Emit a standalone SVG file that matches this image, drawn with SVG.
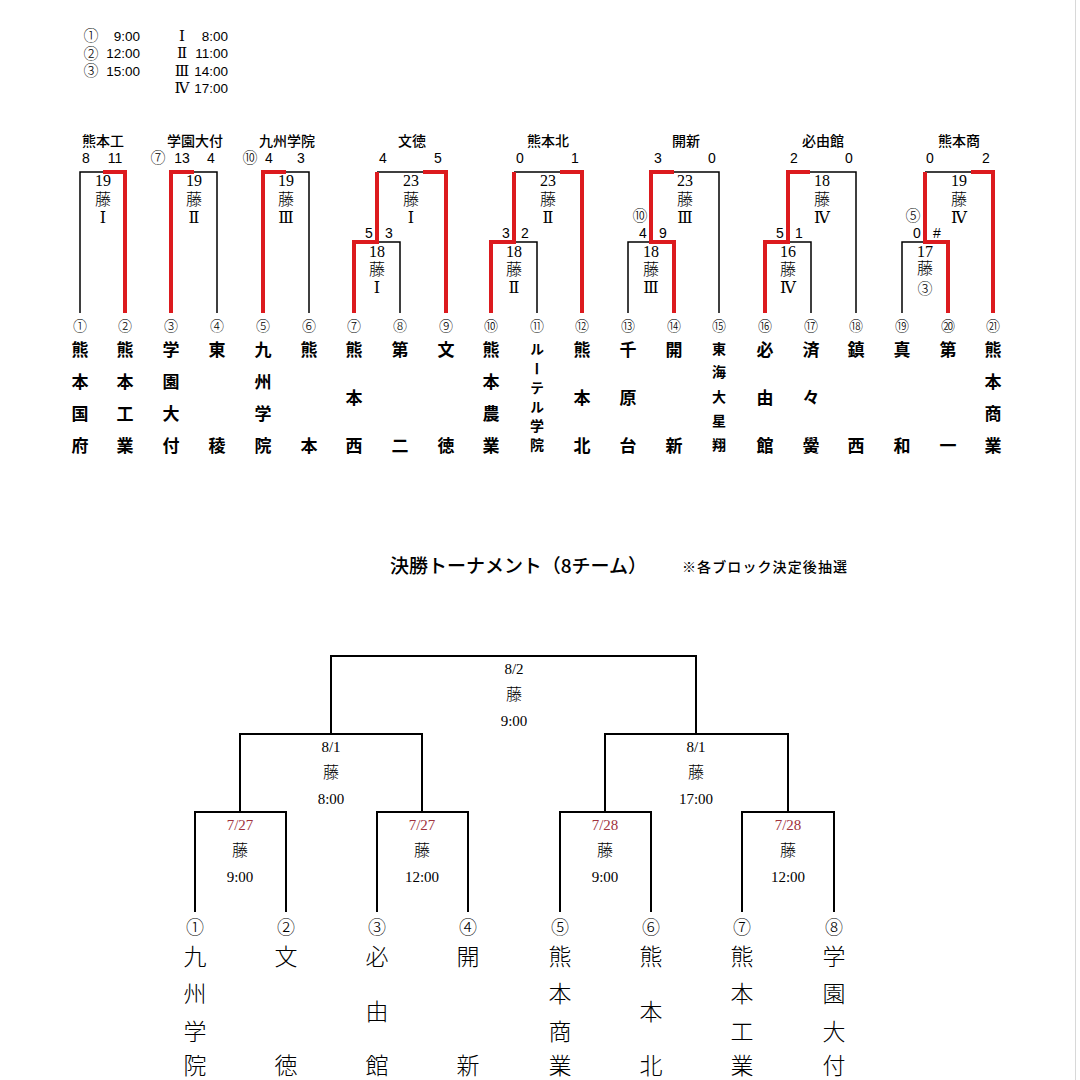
<svg xmlns="http://www.w3.org/2000/svg" width="1080" height="1080" viewBox="0 0 1080 1080">
<style>
.bk{stroke:#000;stroke-width:1.5;fill:none}
.bk2{stroke:#000;stroke-width:2;fill:none}
.rd{stroke:#dc1a1e;stroke-width:4;fill:none;stroke-linejoin:miter}
text{fill:#000}
.nm{font-family:"Noto Sans CJK JP",sans-serif;font-weight:700;font-size:17px;text-anchor:middle}
.nms{font-family:"Noto Sans CJK JP",sans-serif;font-weight:700;font-size:14px;text-anchor:middle}
.cn{font-family:"Noto Sans CJK JP",sans-serif;font-weight:300;font-size:14px;text-anchor:middle}
.sc{font-family:"Liberation Sans","Noto Sans CJK JP",sans-serif;font-size:14px;text-anchor:middle}
.bn{font-family:"Noto Sans CJK JP",sans-serif;font-weight:500;font-size:14px;text-anchor:middle}
.lb{font-family:"Liberation Serif","Noto Sans CJK JP",serif;font-size:16px;text-anchor:middle}
.fj{font-family:"Noto Sans CJK JP",sans-serif;font-weight:300;font-size:16px;text-anchor:middle}
.lg{font-family:"Liberation Sans","Noto Sans CJK JP",sans-serif;font-size:13.5px}
.rm{font-family:"Liberation Serif","DejaVu Serif","Noto Sans CJK JP",serif;font-size:16px;text-anchor:middle}
.bnm{font-family:"Noto Sans CJK JP",sans-serif;font-weight:300;font-size:23px;text-anchor:middle}
.bcn{font-family:"Noto Sans CJK JP",sans-serif;font-weight:300;font-size:18px;text-anchor:middle}
.dt{font-family:"Liberation Serif","Noto Sans CJK JP",serif;font-size:15px;text-anchor:middle}
.dtr{fill:#a0323c}
</style>
<rect width="1080" height="1080" fill="#fff"/>
<line x1="1075.5" y1="0" x2="1075.5" y2="1080" stroke="#d8d8d8" stroke-width="1"/>

<g id="legend">
<text class="cn" x="91" y="41" style="font-size:15px">①</text>
<text class="lg" x="140" y="41" text-anchor="end">9:00</text>
<text class="cn" x="91" y="58.5" style="font-size:15px">②</text>
<text class="lg" x="140" y="58" text-anchor="end">12:00</text>
<text class="cn" x="91" y="76" style="font-size:15px">③</text>
<text class="lg" x="140" y="76" text-anchor="end">15:00</text>
<text class="rm" x="182" y="41" style="font-size:15px">Ⅰ</text>
<text class="lg" x="228" y="41" text-anchor="end">8:00</text>
<text class="rm" x="182" y="58" style="font-size:15px">Ⅱ</text>
<text class="lg" x="228" y="58" text-anchor="end">11:00</text>
<text class="rm" x="182" y="76" style="font-size:15px">Ⅲ</text>
<text class="lg" x="228" y="76" text-anchor="end">14:00</text>
<text class="rm" x="182" y="93" style="font-size:15px">Ⅳ</text>
<text class="lg" x="228" y="93" text-anchor="end">17:00</text>
</g>

<g id="connectors">
<g id="block-connectors-black">
<path class="bk" d="M80,313V172H103"/>
<path class="bk" d="M194,172H217V313"/>
<path class="bk" d="M286,172H309V313"/>
<path class="bk" d="M377,242H400V313M377,172H423"/>
<path class="bk" d="M514,242H537V313M514,172H560"/>
<path class="bk" d="M628,313V242H651M674,172H719V313"/>
<path class="bk" d="M788,242H811V313M810,172H856V313"/>
<path class="bk" d="M902,313V242H925M925,172H971"/>
</g>
<g id="block-connectors-red">
<path class="rd" d="M103,172H125V313"/>
<path class="rd" d="M171,313V172H194"/>
<path class="rd" d="M263,313V172H286"/>
<path class="rd" d="M354,313V242H377V172M423,172H446V313"/>
<path class="rd" d="M491,313V242H514V172M560,172H582V313"/>
<path class="rd" d="M674,313V242H651V172H674"/>
<path class="rd" d="M765,313V242H788V172H810"/>
<path class="rd" d="M948,313V242H925V172M971,172H993V313"/>
</g>
<g id="final-connectors">
<path class="bk2" d="M331,734V656H696V734"/>
<path class="bk2" d="M240,812V734H422V812"/>
<path class="bk2" d="M605,812V734H788V812"/>
<path class="bk2" d="M195,912V812H286V912"/>
<path class="bk2" d="M377,912V812H468V912"/>
<path class="bk2" d="M560,912V812H651V912"/>
<path class="bk2" d="M742,912V812H834V912"/>
</g>
</g>

<g id="block1">
<text class="bn" x="103" y="146">熊本工</text>
<text class="sc" x="86" y="163">8</text><text class="sc" x="115" y="163">11</text>
<text class="lb" x="103" y="186">19</text><text class="fj" x="103" y="205">藤</text><text class="rm" x="103" y="223">Ⅰ</text>
</g>
<g id="block2">
<text class="bn" x="195" y="146">学園大付</text>
<text class="cn" x="158" y="163" style="font-size:15px">⑦</text><text class="sc" x="182" y="163">13</text><text class="sc" x="211" y="163">4</text>
<text class="lb" x="194" y="186">19</text><text class="fj" x="194" y="205">藤</text><text class="rm" x="194" y="223">Ⅱ</text>
</g>
<g id="block3">
<text class="bn" x="287" y="146">九州学院</text>
<text class="cn" x="250" y="163" style="font-size:15px">⑩</text><text class="sc" x="269" y="163">4</text><text class="sc" x="301" y="163">3</text>
<text class="lb" x="286" y="186">19</text><text class="fj" x="286" y="205">藤</text><text class="rm" x="286" y="223">Ⅲ</text>
</g>
<g id="block4">
<text class="bn" x="412" y="146">文徳</text>
<text class="sc" x="383" y="163">4</text><text class="sc" x="438" y="163">5</text>
<text class="lb" x="411" y="186">23</text><text class="fj" x="411" y="205">藤</text><text class="rm" x="411" y="223">Ⅰ</text>
<text class="sc" x="369" y="238">5</text><text class="sc" x="389" y="238">3</text>
<text class="lb" x="377" y="257">18</text><text class="fj" x="377" y="275">藤</text><text class="rm" x="377" y="293">Ⅰ</text>
</g>
<g id="block5">
<text class="bn" x="548" y="146">熊本北</text>
<text class="sc" x="520" y="163">0</text><text class="sc" x="575" y="163">1</text>
<text class="lb" x="548" y="186">23</text><text class="fj" x="548" y="205">藤</text><text class="rm" x="548" y="223">Ⅱ</text>
<text class="sc" x="506" y="238">3</text><text class="sc" x="525" y="238">2</text>
<text class="lb" x="514" y="257">18</text><text class="fj" x="514" y="275">藤</text><text class="rm" x="514" y="293">Ⅱ</text>
</g>
<g id="block6">
<text class="bn" x="686" y="146">開新</text>
<text class="sc" x="658" y="163">3</text><text class="sc" x="712" y="163">0</text>
<text class="lb" x="685" y="186">23</text><text class="fj" x="685" y="205">藤</text><text class="rm" x="685" y="223">Ⅲ</text>
<text class="cn" x="640" y="221" style="font-size:15px">⑩</text>
<text class="sc" x="643" y="238">4</text><text class="sc" x="663" y="238">9</text>
<text class="lb" x="651" y="257">18</text><text class="fj" x="651" y="275">藤</text><text class="rm" x="651" y="293">Ⅲ</text>
</g>
<g id="block7">
<text class="bn" x="823" y="146">必由館</text>
<text class="sc" x="794" y="163">2</text><text class="sc" x="849" y="163">0</text>
<text class="lb" x="822" y="186">18</text><text class="fj" x="822" y="205">藤</text><text class="rm" x="822" y="223">Ⅳ</text>
<text class="sc" x="780" y="238">5</text><text class="sc" x="799" y="238">1</text>
<text class="lb" x="788" y="257">16</text><text class="fj" x="788" y="275">藤</text><text class="rm" x="788" y="293">Ⅳ</text>
</g>
<g id="block8">
<text class="bn" x="959" y="146">熊本商</text>
<text class="sc" x="930" y="163">0</text><text class="sc" x="986" y="163">2</text>
<text class="lb" x="959" y="186">19</text><text class="fj" x="959" y="205">藤</text><text class="rm" x="959" y="223">Ⅳ</text>
<text class="cn" x="913" y="221" style="font-size:15px">⑤</text>
<text class="sc" x="917" y="238">0</text><text class="sc" x="937" y="238">#</text>
<text class="lb" x="925" y="257">17</text><text class="fj" x="925" y="274">藤</text><text class="cn" x="925" y="294" style="font-size:15px">③</text>
</g>

<g id="team1"><text class="cn" x="80" y="331">①</text><text class="nm" x="80" y="356">熊</text><text class="nm" x="80" y="388">本</text><text class="nm" x="80" y="420">国</text><text class="nm" x="80" y="452">府</text></g>
<g id="team2"><text class="cn" x="125" y="331">②</text><text class="nm" x="125" y="356">熊</text><text class="nm" x="125" y="388">本</text><text class="nm" x="125" y="420">工</text><text class="nm" x="125" y="452">業</text></g>
<g id="team3"><text class="cn" x="171" y="331">③</text><text class="nm" x="171" y="356">学</text><text class="nm" x="171" y="388">園</text><text class="nm" x="171" y="420">大</text><text class="nm" x="171" y="452">付</text></g>
<g id="team4"><text class="cn" x="217" y="331">④</text><text class="nm" x="217" y="356">東</text><text class="nm" x="217" y="452">稜</text></g>
<g id="team5"><text class="cn" x="263" y="331">⑤</text><text class="nm" x="263" y="356">九</text><text class="nm" x="263" y="388">州</text><text class="nm" x="263" y="420">学</text><text class="nm" x="263" y="452">院</text></g>
<g id="team6"><text class="cn" x="309" y="331">⑥</text><text class="nm" x="309" y="356">熊</text><text class="nm" x="309" y="452">本</text></g>
<g id="team7"><text class="cn" x="354" y="331">⑦</text><text class="nm" x="354" y="356">熊</text><text class="nm" x="354" y="404">本</text><text class="nm" x="354" y="452">西</text></g>
<g id="team8"><text class="cn" x="400" y="331">⑧</text><text class="nm" x="400" y="356">第</text><text class="nm" x="400" y="452">二</text></g>
<g id="team9"><text class="cn" x="446" y="331">⑨</text><text class="nm" x="446" y="356">文</text><text class="nm" x="446" y="452">徳</text></g>
<g id="team10"><text class="cn" x="491" y="331">⑩</text><text class="nm" x="491" y="356">熊</text><text class="nm" x="491" y="388">本</text><text class="nm" x="491" y="420">農</text><text class="nm" x="491" y="452">業</text></g>
<g id="team11"><text class="cn" x="537" y="331">⑪</text><text class="nms" x="537" y="342" style="writing-mode:vertical-rl;text-anchor:start;letter-spacing:5.2px">ルーテル学院</text></g>
<g id="team12"><text class="cn" x="582" y="331">⑫</text><text class="nm" x="582" y="356">熊</text><text class="nm" x="582" y="404">本</text><text class="nm" x="582" y="452">北</text></g>
<g id="team13"><text class="cn" x="628" y="331">⑬</text><text class="nm" x="628" y="356">千</text><text class="nm" x="628" y="404">原</text><text class="nm" x="628" y="452">台</text></g>
<g id="team14"><text class="cn" x="674" y="331">⑭</text><text class="nm" x="674" y="356">開</text><text class="nm" x="674" y="452">新</text></g>
<g id="team15"><text class="cn" x="719" y="331">⑮</text><text class="nms" x="719" y="354">東</text><text class="nms" x="719" y="377">海</text><text class="nms" x="719" y="402">大</text><text class="nms" x="719" y="426">星</text><text class="nms" x="719" y="450">翔</text></g>
<g id="team16"><text class="cn" x="765" y="331">⑯</text><text class="nm" x="765" y="356">必</text><text class="nm" x="765" y="404">由</text><text class="nm" x="765" y="452">館</text></g>
<g id="team17"><text class="cn" x="811" y="331">⑰</text><text class="nm" x="811" y="356">済</text><text class="nm" x="811" y="404">々</text><text class="nm" x="811" y="452">黌</text></g>
<g id="team18"><text class="cn" x="856" y="331">⑱</text><text class="nm" x="856" y="356">鎮</text><text class="nm" x="856" y="452">西</text></g>
<g id="team19"><text class="cn" x="902" y="331">⑲</text><text class="nm" x="902" y="356">真</text><text class="nm" x="902" y="452">和</text></g>
<g id="team20"><text class="cn" x="948" y="331">⑳</text><text class="nm" x="948" y="356">第</text><text class="nm" x="948" y="452">一</text></g>
<g id="team21"><text class="cn" x="993" y="331">㉑</text><text class="nm" x="993" y="356">熊</text><text class="nm" x="993" y="388">本</text><text class="nm" x="993" y="420">商</text><text class="nm" x="993" y="452">業</text></g>

<g id="title">
<text x="390" y="573" textLength="257" style="font-family:'Noto Sans CJK JP',sans-serif;font-weight:500;font-size:19px">決勝トーナメント（8チーム）</text>
<text x="682" y="572" textLength="165" style="font-family:'Noto Sans CJK JP',sans-serif;font-weight:500;font-size:14px">※各ブロック決定後抽選</text>
</g>

<g id="final"><text class="dt" x="514" y="674">8/2</text><text class="fj" x="514" y="700">藤</text><text class="dt" x="514" y="726">9:00</text></g>
<g id="semi1"><text class="dt" x="331" y="752">8/1</text><text class="fj" x="331" y="778">藤</text><text class="dt" x="331" y="804">8:00</text></g>
<g id="semi2"><text class="dt" x="696" y="752">8/1</text><text class="fj" x="696" y="778">藤</text><text class="dt" x="696" y="804">17:00</text></g>
<g id="qf1"><text class="dt dtr" x="240" y="830">7/27</text><text class="fj" x="240" y="856">藤</text><text class="dt" x="240" y="882">9:00</text></g>
<g id="qf2"><text class="dt dtr" x="422" y="830">7/27</text><text class="fj" x="422" y="856">藤</text><text class="dt" x="422" y="882">12:00</text></g>
<g id="qf3"><text class="dt dtr" x="605" y="830">7/28</text><text class="fj" x="605" y="856">藤</text><text class="dt" x="605" y="882">9:00</text></g>
<g id="qf4"><text class="dt dtr" x="788" y="830">7/28</text><text class="fj" x="788" y="856">藤</text><text class="dt" x="788" y="882">12:00</text></g>

<g id="final-team1"><text class="bcn" x="195" y="934">①</text><text class="bnm" x="195" y="965">九</text><text class="bnm" x="195" y="1002">州</text><text class="bnm" x="195" y="1040">学</text><text class="bnm" x="195" y="1074">院</text></g>
<g id="final-team2"><text class="bcn" x="286" y="934">②</text><text class="bnm" x="286" y="965">文</text><text class="bnm" x="286" y="1074">徳</text></g>
<g id="final-team3"><text class="bcn" x="377" y="934">③</text><text class="bnm" x="377" y="965">必</text><text class="bnm" x="377" y="1020">由</text><text class="bnm" x="377" y="1074">館</text></g>
<g id="final-team4"><text class="bcn" x="468" y="934">④</text><text class="bnm" x="468" y="965">開</text><text class="bnm" x="468" y="1074">新</text></g>
<g id="final-team5"><text class="bcn" x="560" y="934">⑤</text><text class="bnm" x="560" y="965">熊</text><text class="bnm" x="560" y="1002">本</text><text class="bnm" x="560" y="1040">商</text><text class="bnm" x="560" y="1074">業</text></g>
<g id="final-team6"><text class="bcn" x="651" y="934">⑥</text><text class="bnm" x="651" y="965">熊</text><text class="bnm" x="651" y="1020">本</text><text class="bnm" x="651" y="1074">北</text></g>
<g id="final-team7"><text class="bcn" x="742" y="934">⑦</text><text class="bnm" x="742" y="965">熊</text><text class="bnm" x="742" y="1002">本</text><text class="bnm" x="742" y="1040">工</text><text class="bnm" x="742" y="1074">業</text></g>
<g id="final-team8"><text class="bcn" x="834" y="934">⑧</text><text class="bnm" x="834" y="965">学</text><text class="bnm" x="834" y="1002">園</text><text class="bnm" x="834" y="1040">大</text><text class="bnm" x="834" y="1074">付</text></g>
</svg>
